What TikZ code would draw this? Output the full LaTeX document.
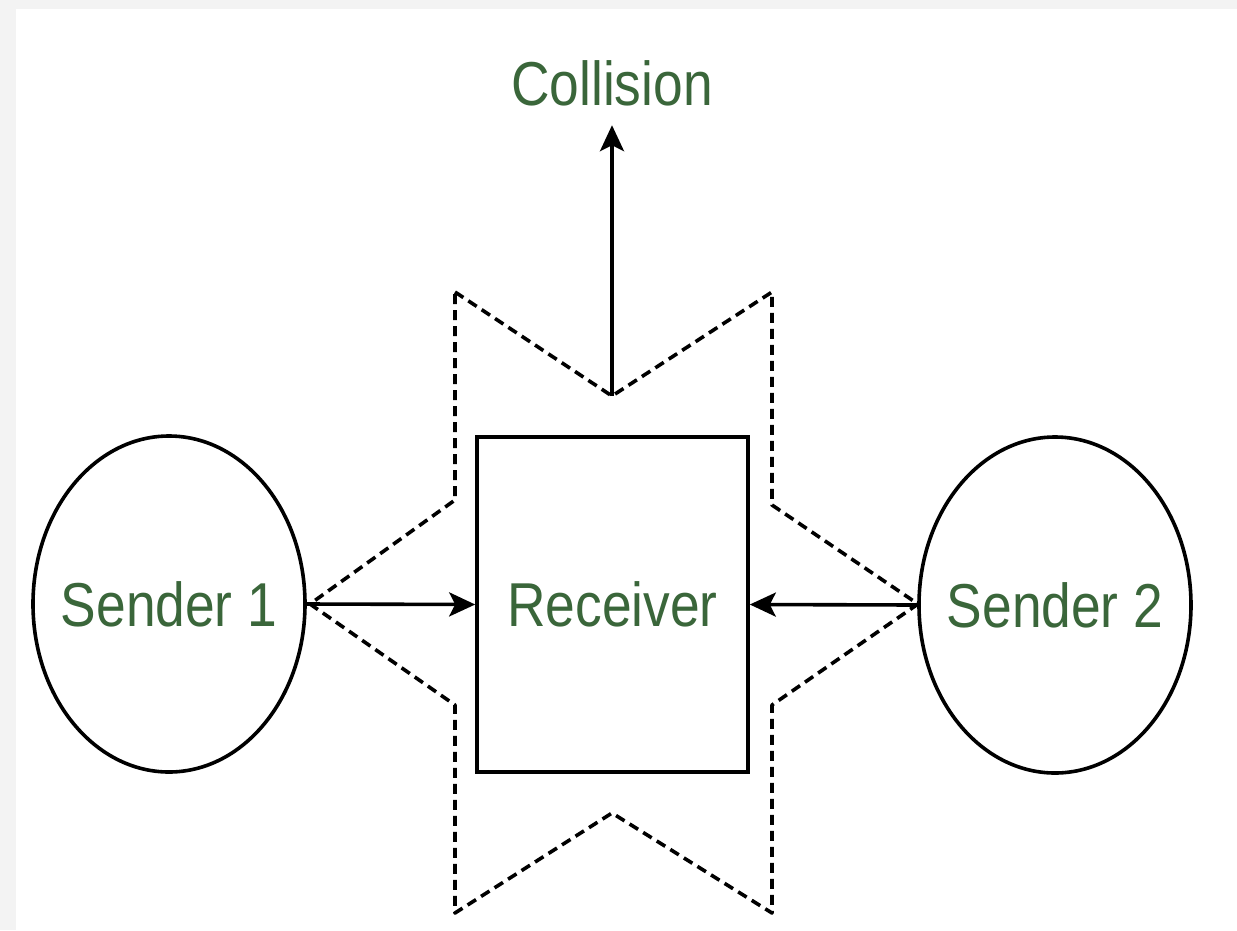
\documentclass[tikz,border=0pt]{standalone}
\usepackage{fontspec}
\usepackage{graphicx}
\setmainfont{Liberation Sans}
\usetikzlibrary{shapes.geometric,arrows.meta}
\definecolor{bggray}{HTML}{F3F3F3}
\definecolor{txtgreen}{HTML}{3A663A}
\tikzset{
  lbl/.style={text=txtgreen,font=\fontsize{62}{70}\selectfont},
  sender/.style={draw=black,line width=3.6pt,ellipse,minimum width=272pt,minimum height=336pt,inner sep=0pt},
  box/.style={draw=black,line width=3.6pt,rectangle,minimum width=271pt,minimum height=335pt,inner sep=0pt,lbl},
  conn/.style={line width=3.6pt,-{Stealth[length=26pt,width=24pt,inset=6pt]}},
  burst/.style={line width=3.6pt,dash pattern=on 10pt off 6pt,line join=round}
}
\newcommand{\sq}[1]{\scalebox{0.86}[1]{#1}}
\begin{document}
\begin{tikzpicture}[x=1pt,y=-1pt]
\fill[bggray] (0,0) rectangle (1237,930);
\fill[white] (16,9) rectangle (1237,930);
\useasboundingbox (0,0) rectangle (1237,930);
% burst outline
\draw[burst] (455,292) -- (612,396) -- (772,292) -- (772,505) -- (918,604) -- (772,705) -- (772,913) -- (612,813) -- (455,913) -- (455,705) -- (310,604) -- (455,500) -- cycle;
\node[sender,label={[lbl]center:\sq{Sender 1}}] (s1) at (169,604) {};
\node[sender,label={[lbl]center:\sq{Sender 2}}] (s2) at (1055,605) {};
\node[box,fill=white] (rcv) at (612.5,604.5) {\sq{Receiver}};
\node[lbl,anchor=base,inner sep=0pt,text depth=0pt] (col) at (612,105) {\sq{Collision}};
\coordinate (v) at (612,396);
\draw[conn] (s1.east) -- (rcv.west);
\draw[conn] (s2.west) -- (rcv.east);
\draw[conn,shorten >=20pt] (v) -- (col.south);
\end{tikzpicture}
\end{document}
